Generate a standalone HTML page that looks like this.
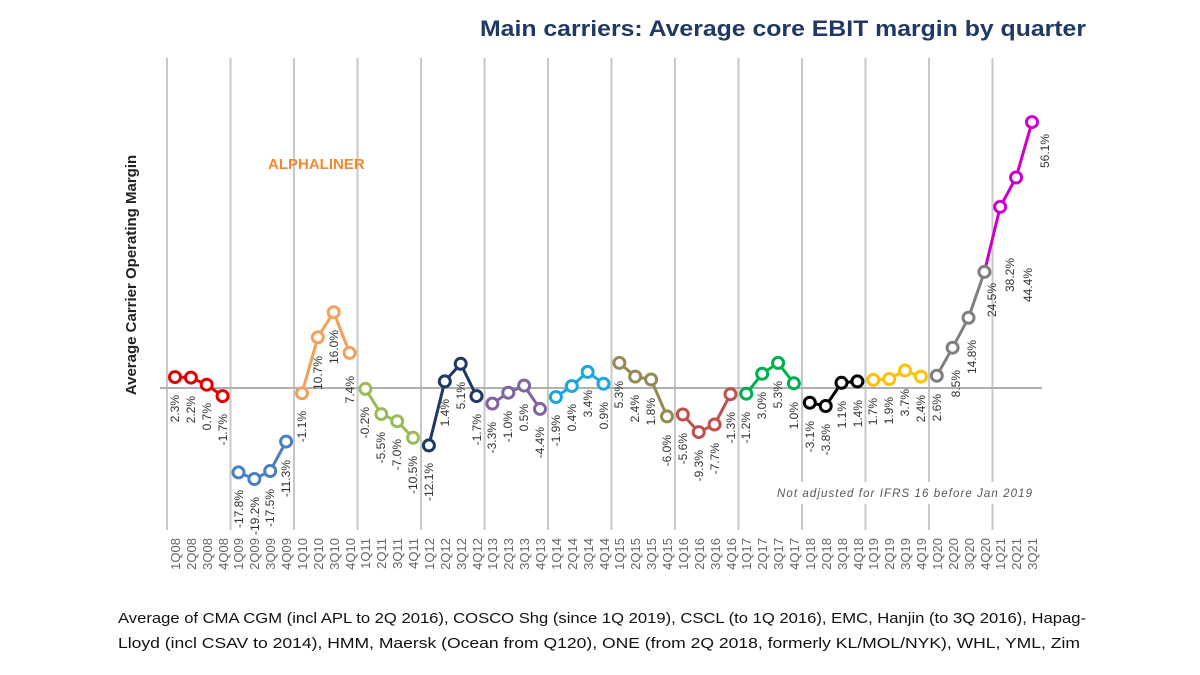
<!DOCTYPE html>
<html><head><meta charset="utf-8"><style>
html,body{margin:0;padding:0;background:#fff;}
svg{display:block;font-family:"Liberation Sans",sans-serif;}
.dl{font-size:12px;fill:#333;}
.tk{font-size:13px;fill:#666;}
</style></head><body>
<svg width="1200" height="675" viewBox="0 0 1200 675" xmlns="http://www.w3.org/2000/svg">
<text x="480" y="36" font-size="22" font-weight="bold" fill="#1f3864" textLength="606" lengthAdjust="spacingAndGlyphs">Main carriers: Average core EBIT margin by quarter</text>
<g stroke="#c8c8c8" stroke-width="2">
<line x1="167" y1="58" x2="167" y2="530"/><line x1="230.5" y1="58" x2="230.5" y2="530"/><line x1="294" y1="58" x2="294" y2="530"/><line x1="357.5" y1="58" x2="357.5" y2="530"/><line x1="421" y1="58" x2="421" y2="530"/><line x1="484.5" y1="58" x2="484.5" y2="530"/><line x1="548" y1="58" x2="548" y2="530"/><line x1="611.5" y1="58" x2="611.5" y2="530"/><line x1="675" y1="58" x2="675" y2="530"/><line x1="738.5" y1="58" x2="738.5" y2="530"/><line x1="802" y1="58" x2="802" y2="530"/><line x1="865.5" y1="58" x2="865.5" y2="530"/><line x1="929" y1="58" x2="929" y2="530"/><line x1="992.5" y1="58" x2="992.5" y2="530"/>
</g>
<rect x="770" y="482" width="270" height="22" fill="#fff"/>
<line x1="160" y1="388" x2="1042" y2="388" stroke="#b0b0b0" stroke-width="2"/>
<text transform="translate(136,275) rotate(-90)" text-anchor="middle" font-size="15" font-weight="bold" fill="#222">Average Carrier Operating Margin</text>
<text x="268" y="169" font-size="15" font-weight="bold" fill="#f08a30">ALPHALINER</text>
<text x="777" y="497" font-size="11.5" font-style="italic" fill="#555" textLength="255">Not adjusted for IFRS 16 before Jan 2019</text>
<g fill="none" stroke-width="3" stroke-linejoin="round">
<polyline stroke="#e00000" points="175,377.1 190.9,377.6 206.7,384.7 222.6,396.1"/>
<polyline stroke="#4a7fc1" points="238.5,472.4 254.4,479 270.2,471 286.1,441.6"/>
<polyline stroke="#f2a05a" points="302,393.2 317.8,337.3 333.7,312.2 349.6,352.9"/>
<polyline stroke="#9bbb59" points="365.4,388.9 381.3,414.1 397.2,421.2 413.1,437.8"/>
<polyline stroke="#1f3864" points="428.9,445.4 444.8,381.4 460.7,363.8 476.5,396.1"/>
<polyline stroke="#8064a2" points="492.4,403.6 508.3,392.7 524.1,385.6 540,408.9"/>
<polyline stroke="#1aa7e0" points="555.9,397 571.8,386.1 587.6,371.9 603.5,383.7"/>
<polyline stroke="#948a54" points="619.4,362.9 635.2,376.6 651.1,379.5 667,416.4"/>
<polyline stroke="#c0504d" points="682.8,414.5 698.7,432.1 714.6,424.5 730.5,394.2"/>
<polyline stroke="#00b050" points="746.3,393.7 762.2,373.8 778.1,362.9 793.9,383.3"/>
<polyline stroke="#000" points="809.8,402.7 825.7,406 841.5,382.8 857.4,381.4"/>
<polyline stroke="#ffc000" points="873.3,379.9 889.2,379 905,370.5 920.9,376.6"/>
<polyline stroke="#7f7f7f" points="936.8,375.7 952.6,347.7 968.5,317.8 984.4,271.9"/>
<polyline stroke="#cc00cc" points="984.4,271.9 1000.2,206.9 1016.1,177.5 1032,122.1"/>
</g>
<g fill="#fff" stroke-width="3">
<g stroke="#e00000"><circle cx="175" cy="377.1" r="5.5"/><circle cx="190.9" cy="377.6" r="5.5"/><circle cx="206.7" cy="384.7" r="5.5"/><circle cx="222.6" cy="396.1" r="5.5"/></g>
<g stroke="#4a7fc1"><circle cx="238.5" cy="472.4" r="5.5"/><circle cx="254.4" cy="479" r="5.5"/><circle cx="270.2" cy="471" r="5.5"/><circle cx="286.1" cy="441.6" r="5.5"/></g>
<g stroke="#f2a05a"><circle cx="302" cy="393.2" r="5.5"/><circle cx="317.8" cy="337.3" r="5.5"/><circle cx="333.7" cy="312.2" r="5.5"/><circle cx="349.6" cy="352.9" r="5.5"/></g>
<g stroke="#9bbb59"><circle cx="365.4" cy="388.9" r="5.5"/><circle cx="381.3" cy="414.1" r="5.5"/><circle cx="397.2" cy="421.2" r="5.5"/><circle cx="413.1" cy="437.8" r="5.5"/></g>
<g stroke="#1f3864"><circle cx="428.9" cy="445.4" r="5.5"/><circle cx="444.8" cy="381.4" r="5.5"/><circle cx="460.7" cy="363.8" r="5.5"/><circle cx="476.5" cy="396.1" r="5.5"/></g>
<g stroke="#8064a2"><circle cx="492.4" cy="403.6" r="5.5"/><circle cx="508.3" cy="392.7" r="5.5"/><circle cx="524.1" cy="385.6" r="5.5"/><circle cx="540" cy="408.9" r="5.5"/></g>
<g stroke="#1aa7e0"><circle cx="555.9" cy="397" r="5.5"/><circle cx="571.8" cy="386.1" r="5.5"/><circle cx="587.6" cy="371.9" r="5.5"/><circle cx="603.5" cy="383.7" r="5.5"/></g>
<g stroke="#948a54"><circle cx="619.4" cy="362.9" r="5.5"/><circle cx="635.2" cy="376.6" r="5.5"/><circle cx="651.1" cy="379.5" r="5.5"/><circle cx="667" cy="416.4" r="5.5"/></g>
<g stroke="#c0504d"><circle cx="682.8" cy="414.5" r="5.5"/><circle cx="698.7" cy="432.1" r="5.5"/><circle cx="714.6" cy="424.5" r="5.5"/><circle cx="730.5" cy="394.2" r="5.5"/></g>
<g stroke="#00b050"><circle cx="746.3" cy="393.7" r="5.5"/><circle cx="762.2" cy="373.8" r="5.5"/><circle cx="778.1" cy="362.9" r="5.5"/><circle cx="793.9" cy="383.3" r="5.5"/></g>
<g stroke="#000"><circle cx="809.8" cy="402.7" r="5.5"/><circle cx="825.7" cy="406" r="5.5"/><circle cx="841.5" cy="382.8" r="5.5"/><circle cx="857.4" cy="381.4" r="5.5"/></g>
<g stroke="#ffc000"><circle cx="873.3" cy="379.9" r="5.5"/><circle cx="889.2" cy="379" r="5.5"/><circle cx="905" cy="370.5" r="5.5"/><circle cx="920.9" cy="376.6" r="5.5"/></g>
<g stroke="#7f7f7f"><circle cx="936.8" cy="375.7" r="5.5"/><circle cx="952.6" cy="347.7" r="5.5"/><circle cx="968.5" cy="317.8" r="5.5"/><circle cx="984.4" cy="271.9" r="5.5"/></g>
<g stroke="#cc00cc"><circle cx="1000.2" cy="206.9" r="5.5"/><circle cx="1016.1" cy="177.5" r="5.5"/><circle cx="1032" cy="122.1" r="5.5"/></g>
</g>
<g class="dl" text-anchor="end">
<text transform="translate(179,395) rotate(-90)">2.3%</text>
<text transform="translate(195,396) rotate(-90)">2.2%</text>
<text transform="translate(211,403) rotate(-90)">0.7%</text>
<text transform="translate(227,414) rotate(-90)">-1.7%</text>
<text transform="translate(243,490) rotate(-90)">-17.8%</text>
<text transform="translate(259,497) rotate(-90)">-19.2%</text>
<text transform="translate(274,489) rotate(-90)">-17.5%</text>
<text transform="translate(290,460) rotate(-90)">-11.3%</text>
<text transform="translate(306,411) rotate(-90)">-1.1%</text>
<text transform="translate(322,356) rotate(-90)">10.7%</text>
<text transform="translate(338,330) rotate(-90)">16.0%</text>
<text transform="translate(354,376) rotate(-90)">7.4%</text>
<text transform="translate(369,407) rotate(-90)">-0.2%</text>
<text transform="translate(385,432) rotate(-90)">-5.5%</text>
<text transform="translate(401,439) rotate(-90)">-7.0%</text>
<text transform="translate(417,456) rotate(-90)">-10.5%</text>
<text transform="translate(433,463) rotate(-90)">-12.1%</text>
<text transform="translate(449,399) rotate(-90)">1.4%</text>
<text transform="translate(465,382) rotate(-90)">5.1%</text>
<text transform="translate(481,414) rotate(-90)">-1.7%</text>
<text transform="translate(496,422) rotate(-90)">-3.3%</text>
<text transform="translate(512,411) rotate(-90)">-1.0%</text>
<text transform="translate(528,404) rotate(-90)">0.5%</text>
<text transform="translate(544,427) rotate(-90)">-4.4%</text>
<text transform="translate(560,415) rotate(-90)">-1.9%</text>
<text transform="translate(576,404) rotate(-90)">0.4%</text>
<text transform="translate(592,390) rotate(-90)">3.4%</text>
<text transform="translate(608,402) rotate(-90)">0.9%</text>
<text transform="translate(623,381) rotate(-90)">5.3%</text>
<text transform="translate(639,395) rotate(-90)">2.4%</text>
<text transform="translate(655,398) rotate(-90)">1.8%</text>
<text transform="translate(671,435) rotate(-90)">-6.0%</text>
<text transform="translate(687,433) rotate(-90)">-5.6%</text>
<text transform="translate(703,450) rotate(-90)">-9.3%</text>
<text transform="translate(719,443) rotate(-90)">-7.7%</text>
<text transform="translate(735,412) rotate(-90)">-1.3%</text>
<text transform="translate(750,412) rotate(-90)">-1.2%</text>
<text transform="translate(766,392) rotate(-90)">3.0%</text>
<text transform="translate(782,381) rotate(-90)">5.3%</text>
<text transform="translate(798,402) rotate(-90)">1.0%</text>
<text transform="translate(814,421) rotate(-90)">-3.1%</text>
<text transform="translate(830,424) rotate(-90)">-3.8%</text>
<text transform="translate(846,401) rotate(-90)">1.1%</text>
<text transform="translate(862,400) rotate(-90)">1.4%</text>
<text transform="translate(877,398) rotate(-90)">1.7%</text>
<text transform="translate(893,397) rotate(-90)">1.9%</text>
<text transform="translate(909,389) rotate(-90)">3.7%</text>
<text transform="translate(925,395) rotate(-90)">2.4%</text>
<text transform="translate(941,394) rotate(-90)">2.6%</text>
<text transform="translate(960,370) rotate(-90)">8.5%</text>
<text transform="translate(976,340) rotate(-90)">14.8%</text>
<text transform="translate(996,283) rotate(-90)">24.5%</text>
<text transform="translate(1014,258) rotate(-90)">38.2%</text>
<text transform="translate(1032,268) rotate(-90)">44.4%</text>
<text transform="translate(1049,134) rotate(-90)">56.1%</text>
</g>
<g class="tk" text-anchor="end">
<text transform="translate(180,538) rotate(-90)">1Q08</text><text transform="translate(196,538) rotate(-90)">2Q08</text><text transform="translate(212,538) rotate(-90)">3Q08</text><text transform="translate(228,538) rotate(-90)">4Q08</text>
<text transform="translate(243,538) rotate(-90)">1Q09</text><text transform="translate(259,538) rotate(-90)">2Q09</text><text transform="translate(275,538) rotate(-90)">3Q09</text><text transform="translate(291,538) rotate(-90)">4Q09</text>
<text transform="translate(307,538) rotate(-90)">1Q10</text><text transform="translate(323,538) rotate(-90)">2Q10</text><text transform="translate(339,538) rotate(-90)">3Q10</text><text transform="translate(355,538) rotate(-90)">4Q10</text>
<text transform="translate(370,538) rotate(-90)">1Q11</text><text transform="translate(386,538) rotate(-90)">2Q11</text><text transform="translate(402,538) rotate(-90)">3Q11</text><text transform="translate(418,538) rotate(-90)">4Q11</text>
<text transform="translate(434,538) rotate(-90)">1Q12</text><text transform="translate(450,538) rotate(-90)">2Q12</text><text transform="translate(466,538) rotate(-90)">3Q12</text><text transform="translate(482,538) rotate(-90)">4Q12</text>
<text transform="translate(497,538) rotate(-90)">1Q13</text><text transform="translate(513,538) rotate(-90)">2Q13</text><text transform="translate(529,538) rotate(-90)">3Q13</text><text transform="translate(545,538) rotate(-90)">4Q13</text>
<text transform="translate(561,538) rotate(-90)">1Q14</text><text transform="translate(577,538) rotate(-90)">2Q14</text><text transform="translate(593,538) rotate(-90)">3Q14</text><text transform="translate(609,538) rotate(-90)">4Q14</text>
<text transform="translate(624,538) rotate(-90)">1Q15</text><text transform="translate(640,538) rotate(-90)">2Q15</text><text transform="translate(656,538) rotate(-90)">3Q15</text><text transform="translate(672,538) rotate(-90)">4Q15</text>
<text transform="translate(688,538) rotate(-90)">1Q16</text><text transform="translate(704,538) rotate(-90)">2Q16</text><text transform="translate(720,538) rotate(-90)">3Q16</text><text transform="translate(736,538) rotate(-90)">4Q16</text>
<text transform="translate(751,538) rotate(-90)">1Q17</text><text transform="translate(767,538) rotate(-90)">2Q17</text><text transform="translate(783,538) rotate(-90)">3Q17</text><text transform="translate(799,538) rotate(-90)">4Q17</text>
<text transform="translate(815,538) rotate(-90)">1Q18</text><text transform="translate(831,538) rotate(-90)">2Q18</text><text transform="translate(847,538) rotate(-90)">3Q18</text><text transform="translate(863,538) rotate(-90)">4Q18</text>
<text transform="translate(878,538) rotate(-90)">1Q19</text><text transform="translate(894,538) rotate(-90)">2Q19</text><text transform="translate(910,538) rotate(-90)">3Q19</text><text transform="translate(926,538) rotate(-90)">4Q19</text>
<text transform="translate(942,538) rotate(-90)">1Q20</text><text transform="translate(958,538) rotate(-90)">2Q20</text><text transform="translate(974,538) rotate(-90)">3Q20</text><text transform="translate(990,538) rotate(-90)">4Q20</text>
<text transform="translate(1005,538) rotate(-90)">1Q21</text><text transform="translate(1021,538) rotate(-90)">2Q21</text><text transform="translate(1037,538) rotate(-90)">3Q21</text>
</g>
<text x="118" y="623" font-size="15" fill="#111" textLength="968" lengthAdjust="spacingAndGlyphs">Average of CMA CGM (incl APL to 2Q 2016), COSCO Shg (since 1Q 2019), CSCL (to 1Q 2016), EMC, Hanjin (to 3Q 2016), Hapag-</text>
<text x="118" y="648" font-size="15" fill="#111" textLength="962" lengthAdjust="spacingAndGlyphs">Lloyd (incl CSAV to 2014), HMM,  Maersk (Ocean from Q120), ONE (from 2Q 2018, formerly KL/MOL/NYK), WHL, YML, Zim</text>
</svg>
</body></html>
